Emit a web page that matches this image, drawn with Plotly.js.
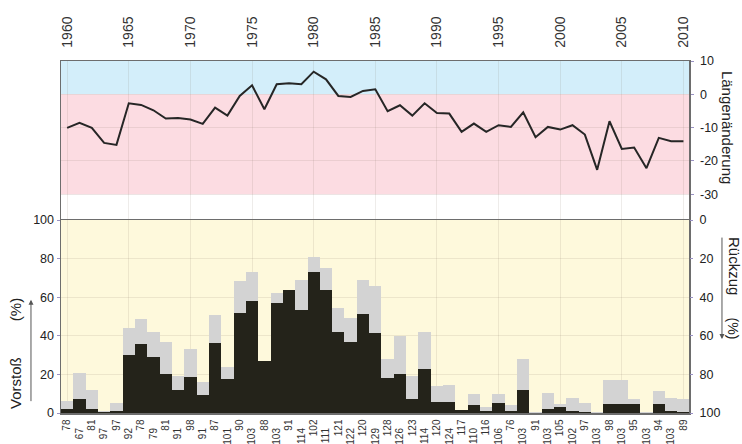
<!DOCTYPE html>
<html>
<head>
<meta charset="utf-8">
<script src="https://cdn.plot.ly/plotly-3.0.1.min.js"></script>
<style>
html,body{margin:0;padding:0;background:#fff;}
#chart{width:742px;height:444px;}
</style>
</head>
<body>
<div id="chart"></div>
<script>
// ---- data ----
const years = [1960,1961,1962,1963,1964,1965,1966,1967,1968,1969,1970,1971,1972,1973,1974,1975,1976,1977,1978,1979,1980,1981,1982,1983,1984,1985,1986,1987,1988,1989,1990,1991,1992,1993,1994,1995,1996,1997,1998,1999,2000,2001,2002,2003,2004,2005,2006,2007,2008,2009,2010];

// mean length change (top panel)
const laengenaenderung = [-10.1,-8.6,-10.1,-14.6,-15.2,-2.7,-3.2,-4.8,-7.3,-7.1,-7.6,-8.9,-4.0,-6.4,-0.5,2.7,-4.5,3.0,3.3,3.0,6.8,4.5,-0.5,-0.8,1.0,1.5,-5.1,-3.3,-6.4,-2.7,-5.6,-5.8,-11.3,-8.8,-11.3,-9.3,-9.8,-5.4,-12.9,-9.8,-10.6,-9.3,-12.1,-22.7,-8.1,-16.4,-16.0,-22.2,-13.1,-14.1,-14.1];

// share of advancing glaciers (%) (black)
const vorstoss = [2,7,2,0.5,1,30,36,29,20,12,18.5,9.5,36.5,17.5,52,58,27,57,64,53.5,73,64,42,37,51.5,41.5,18,20,7,23,5.5,5.5,1.5,4,1,5,1,12,0,2,3,1,0.5,0,4.5,4.5,4.5,0,4.5,1,0.5];

// share of stationary glaciers (%) (grey, stacked on top)
const stationaer = [4,13.5,10,0.5,4,14,12.5,13,17,7,14.5,6.5,14.5,6.5,16.5,15,0,5,0,15.5,8,11,12.5,12.5,17.5,24.5,10,20,12,19,8.5,9,0,6,2,5,3,16,0.5,8.5,1.5,7,4.5,0.5,12.5,12.5,3,0.5,7,7,7];

// number of observed glaciers (tick labels under the bars)
const anzahl = ["78","67","81","97","97","92","78","79","81","91","98","91","87","101","90","103","88","103","91","114","102","111","121","122","120","129","128","126","123","114","120","124","117","110","116","106","76","103","91","103","105","102","97","103","98","103","95","103","94","103","89"];

const yearTicks = [1960,1965,1970,1975,1980,1985,1990,1995,2000,2005,2010];
const leftTicks = [0,20,40,60,80,100];
const topTicks = [10,0,-10,-20,-30];
const topTickText = ["10","0","-10","-20","-30"];

// ---- split labels into two staggered rows ----
const evenVals=[], evenText=[], oddVals=[], oddText=[];
years.forEach((y,i)=>{
  if(i%2===0){evenVals.push(y);evenText.push(anzahl[i]);}
  else {oddVals.push(y);oddText.push(anzahl[i]);}
});

const FONT = 'Liberation Sans, Arial, sans-serif';
const LINE = '#6d6d6d';
const GRID = 'rgba(120,110,90,0.13)';
const XR = [1959.5, 2010.45];

const traces = [
  {type:'bar', x:years, y:vorstoss, xaxis:'x', yaxis:'y', marker:{color:'#24231a', line:{width:0}}, hoverinfo:'skip', showlegend:false},
  {type:'bar', x:years, y:stationaer, xaxis:'x', yaxis:'y', marker:{color:'#d3d3d3', line:{width:0}}, hoverinfo:'skip', showlegend:false},
  {type:'scatter', mode:'lines', x:years, y:laengenaenderung, xaxis:'x2', yaxis:'y2', line:{color:'#262626', width:2}, hoverinfo:'skip', showlegend:false},
  {type:'scatter', mode:'none', x:[years[0]], y:[null], xaxis:'x3', yaxis:'y', showlegend:false, hoverinfo:'skip'},
  {type:'scatter', mode:'none', x:[years[0]], y:[null], xaxis:'x4', yaxis:'y', showlegend:false, hoverinfo:'skip'},
  {type:'scatter', mode:'none', x:[years[0]], y:[null], xaxis:'x', yaxis:'y3', showlegend:false, hoverinfo:'skip'}
];

const D = 0.548;
const layout = {
  width:742, height:444,
  margin:{l:61, r:53, t:61, b:31, pad:0},
  paper_bgcolor:'#ffffff', plot_bgcolor:'rgba(0,0,0,0)',
  font:{family:FONT, size:12, color:'#222'},
  barmode:'stack', bargap:0,
  showlegend:false,
  xaxis:{domain:[0,1], anchor:'y', range:XR, tickmode:'array', tickvals:evenVals, ticktext:evenText,
         tickangle:-90, tickfont:{size:10, color:'#333'}, ticks:'', showgrid:false, zeroline:false,
         showline:true, linecolor:LINE, linewidth:1.5, mirror:true, ticklabelstandoff:1},
  xaxis3:{overlaying:'x', anchor:'y', side:'bottom', range:XR, tickmode:'array', tickvals:oddVals, ticktext:oddText,
         tickangle:-90, tickfont:{size:10, color:'#333'}, ticks:'', showgrid:false, zeroline:false, showline:false,
         ticklabelstandoff:12},
  xaxis4:{overlaying:'x', anchor:'y', range:XR, tickmode:'array', tickvals:yearTicks, showticklabels:false,
         ticks:'', showgrid:true, gridcolor:GRID, gridwidth:1, zeroline:false, showline:false},
  xaxis2:{anchor:'y2', side:'top', range:XR, tickmode:'array', tickvals:yearTicks, ticktext:yearTicks.map(String),
         tickangle:-90, tickfont:{size:14, color:'#333'}, ticks:'', showgrid:true, gridcolor:GRID, zeroline:false,
         showline:true, linecolor:LINE, linewidth:1.5, ticklabelstandoff:9},
  yaxis:{domain:[0,D], anchor:'x', range:[0,100], tickmode:'array', tickvals:leftTicks, side:'left',
         ticks:'outside', ticklen:3, tickcolor:'#9a92c4', showgrid:true, gridcolor:GRID, zeroline:false,
         showline:true, linecolor:LINE, linewidth:1.5, mirror:true, tickfont:{size:12.5, color:'#222'}},
  yaxis3:{overlaying:'y', anchor:'x', side:'right', range:[100,0], tickmode:'array', tickvals:leftTicks,
         ticks:'outside', ticklen:3, tickcolor:'#9a92c4', showgrid:false, zeroline:false, showline:false,
         tickfont:{size:12.5, color:'#222'}, ticklabelstandoff:4},
  yaxis2:{domain:[D,1], anchor:'x2', side:'right', range:[-37.8,10], tickmode:'array', tickvals:topTicks, ticktext:topTickText,
         ticks:'outside', ticklen:3, tickcolor:'#9a92c4', showgrid:true, gridcolor:GRID, zeroline:false,
         showline:true, linecolor:LINE, linewidth:1.5, mirror:true, tickfont:{size:12.5, color:'#222'}, ticklabelstandoff:4},
  shapes:[
    {type:'rect', layer:'below', xref:'paper', x0:0, x1:1, yref:'y2', y0:0, y1:10, fillcolor:'#d3eefa', line:{width:0}},
    {type:'rect', layer:'below', xref:'paper', x0:0, x1:1, yref:'y2', y0:-30, y1:0, fillcolor:'#fcdce2', line:{width:0}},
    {type:'rect', layer:'below', xref:'paper', x0:0, x1:1, yref:'y', y0:0, y1:100, fillcolor:'#fef9dc', line:{width:0}}
  ],
  annotations:[
    {xref:'paper', yref:'paper', x:-0.0733, y:0.085, text:'Vorstoß', textangle:-90, showarrow:false,
     font:{size:15, color:'#222'}, xanchor:'center', yanchor:'middle'},
    {xref:'paper', yref:'paper', x:-0.0733, y:0.295, text:'(%)', textangle:-90, showarrow:false,
     font:{size:15, color:'#222'}, xanchor:'center', yanchor:'middle'},
    {xref:'paper', yref:'paper', x:-0.0478, y:0.322, text:'', showarrow:true, ax:0, ay:103, arrowhead:2,
     arrowsize:1, arrowwidth:1, arrowcolor:'#555'},
    {xref:'paper', yref:'paper', x:1.0605, y:0.81, text:'Längenänderung', textangle:90, showarrow:false,
     font:{size:15, color:'#222'}, xanchor:'center', yanchor:'middle'},
    {xref:'paper', yref:'paper', x:1.0715, y:0.418, text:'Rückzug', textangle:90, showarrow:false,
     font:{size:15, color:'#222'}, xanchor:'center', yanchor:'middle'},
    {xref:'paper', yref:'paper', x:1.0715, y:0.24, text:'(%)', textangle:90, showarrow:false,
     font:{size:14, color:'#222'}, xanchor:'center', yanchor:'middle'},
    {xref:'paper', yref:'paper', x:1.0525, y:0.21, text:'', showarrow:true, ax:0, ay:-103, arrowhead:2,
     arrowsize:1, arrowwidth:1, arrowcolor:'#555'}
  ]
};

Plotly.newPlot('chart', traces, layout, {staticPlot:true, displayModeBar:false});
</script>
</body>
</html>
